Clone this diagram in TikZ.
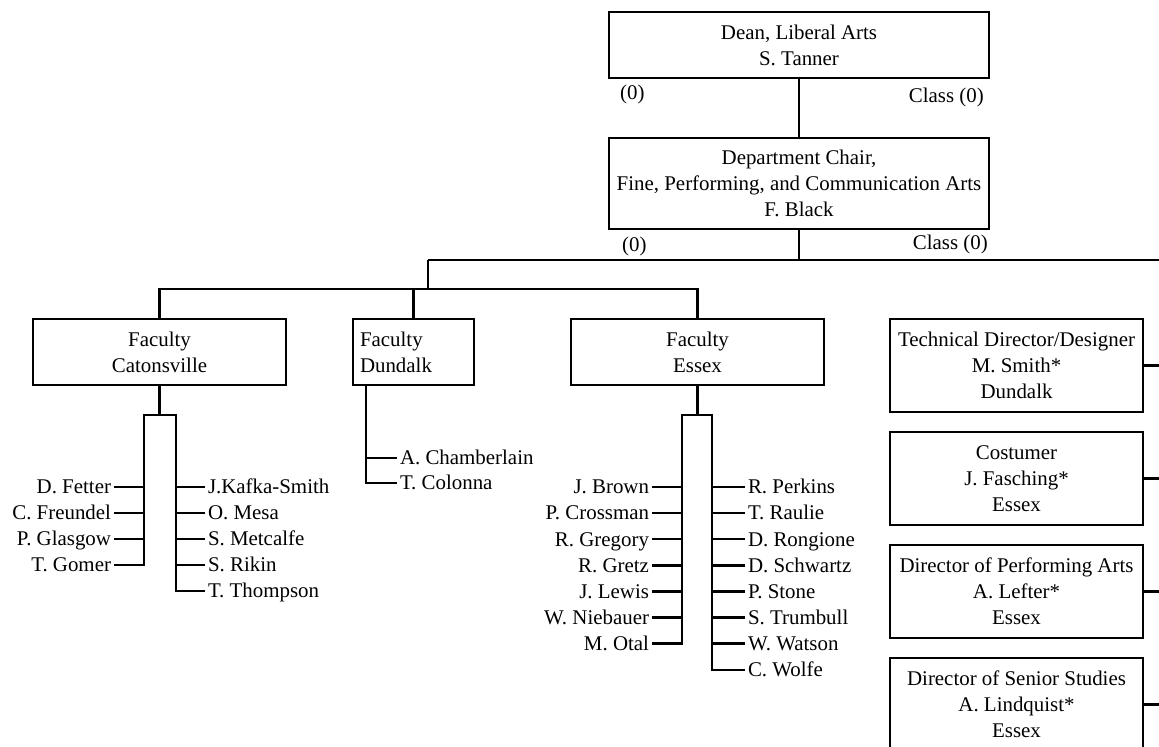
\documentclass[tikz,border=0pt]{standalone}
\usepackage{fontspec}
\setmainfont{Liberation Serif}
\usepackage{tikz}
\usetikzlibrary{positioning}

\begin{document}
\begin{tikzpicture}[x=0.5pt, y=-0.5pt, line width=1.2pt,
					font=\fontsize{10.45}{13}\selectfont,
					box/.style={rectangle, draw, align=center, minimum width=126.5pt, minimum height=33pt, inner sep=2pt, outer sep=0pt},
					staff/.style={box, minimum height=46.5pt},
					person/.style={inner xsep=1.5pt, inner ysep=0pt, outer sep=0pt, text height=6.85pt, text depth=0pt},
					note/.style={inner sep=0pt}
				]
					\useasboundingbox (0,0) rectangle (1159,746);
					
					% Nodes
					\node[box, minimum width=190pt] (dean) at (799,45) {Dean, Liberal Arts\\S. Tanner};
					\node[box, minimum width=190pt, minimum height=45.5pt, below=30pt of dean] (chair) {Department Chair,\\Fine, Performing, and Communication Arts\\F. Black};
					\node[note, anchor=west] (deanL) at (619,94) {(0)};
					\node[note, anchor=east] (deanR) at (985,97) {Class (0)};
					\node[note, anchor=west] (chairL) at (621,246) {(0)};
					\node[note, anchor=east] (chairR) at (989,244) {Class (0)};
					
					\node[box] (cat) at (159.5,352) {Faculty\\Catonsville};
					\node[box, minimum width=60.5pt, text width=53.5pt, align=left, right=33.5pt of cat] (dun) {Faculty\\Dundalk};
					\node[box, right=48.5pt of dun] (ess) {Faculty\\Essex};
					
					\node[staff] (tech) at (1016.5,365.5) {Technical Director/Designer\\M. Smith*\\Dundalk};
					\node[staff, below=10pt of tech] (cost) {Costumer\\J. Fasching*\\Essex};
					\node[staff, below=10pt of cost] (perf) {Director of Performing Arts\\A. Lefter*\\Essex};
					\node[staff, below=10pt of perf] (senior) {Director of Senior Studies\\A. Lindquist*\\Essex};
					
					\coordinate (busL) at (428,260);
					\coordinate (busR) at (1159,260);
					\coordinate (facbus) at (428,289);
					\coordinate (facR) at (697.5,289);
					\coordinate (catl) at (144,415);
					\coordinate (catr) at (176,415);
					\coordinate (dunstem) at (366,385);
					\coordinate (essl) at (682,415);
					\coordinate (essr) at (712,415);
					
					% Names
					\foreach \name [count=\i from 0] in {D. Fetter, C. Freundel, P. Glasgow, T. Gomer}
						\node[person, anchor=east] (catLeft\i) at (114,{487+26*\i}) {\name};
					\foreach \name [count=\i from 0] in {J.Kafka-Smith, O. Mesa, S. Metcalfe, S. Rikin, T. Thompson}
						\node[person, anchor=west] (catRight\i) at (205,{487+26*\i}) {\name};
					\foreach \name [count=\i from 0] in {A. Chamberlain, T. Colonna}
						\node[person, anchor=west] (dunRight\i) at (397,{458+25*\i}) {\name};
					\foreach \name [count=\i from 0] in {J. Brown, P. Crossman, R. Gregory, R. Gretz, J. Lewis, W. Niebauer, M. Otal}
						\node[person, anchor=east] (essLeft\i) at (652,{487+26.1*\i}) {\name};
					\foreach \name [count=\i from 0] in {R. Perkins, T. Raulie, D. Rongione, D. Schwartz, P. Stone, S. Trumbull, W. Watson, C. Wolfe}
						\node[person, anchor=west] (essRight\i) at (745,{487+26.1*\i}) {\name};
					
					% Lines
					\draw (dean) -- (chair);
					\draw (chair.south) -- (chair.south |- busR);
					\draw (busL) -- (busR);
					\draw (busL) -- (facbus);
					\draw (cat.north) |- (facR) -- (ess.north);
					\draw (dun.north) -- (dun.north |- facR);
					\foreach \n in {tech, cost, perf, senior}
						\draw (\n.east) -- (\n.east -| busR);
					
					\draw (cat.south) -- (cat.south |- catl);
					\draw (catLeft3.east) -| (catl) -- (catr) |- (catRight4.west);
					\foreach \i in {0,1,2}
						\draw (catLeft\i.east) -- (catLeft\i.east -| catl);
					\foreach \i in {0,1,2,3}
						\draw (catRight\i.west) -- (catRight\i.west -| catr);
					
					\draw (dunstem) |- (dunRight1.west);
					\draw (dunRight0.west) -- (dunRight0.west -| dunstem);
					
					\draw (ess.south) -- (ess.south |- essl);
					\draw (essLeft6.east) -| (essl) -- (essr) |- (essRight7.west);
					\foreach \i in {0,...,5}
						\draw (essLeft\i.east) -- (essLeft\i.east -| essl);
					\foreach \i in {0,...,6}
						\draw (essRight\i.west) -- (essRight\i.west -| essr);
				\end{tikzpicture}
\end{document}
